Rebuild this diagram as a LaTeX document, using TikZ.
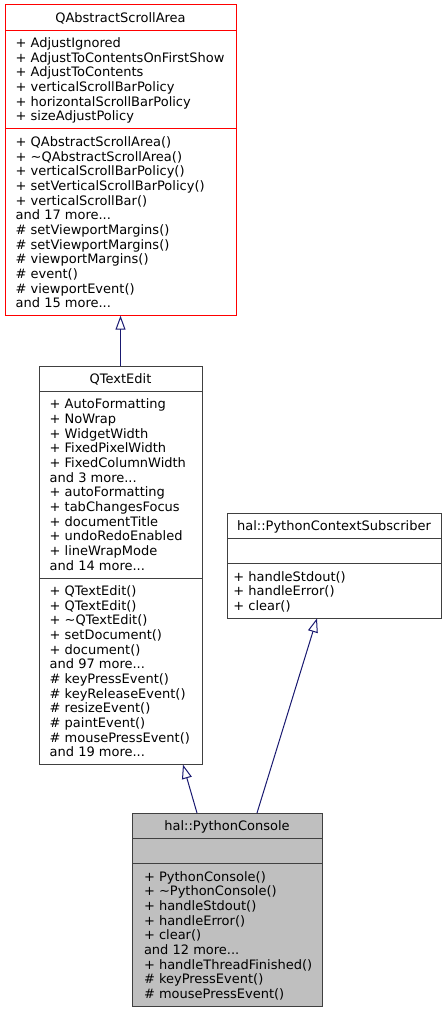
\documentclass[tikz,border=0pt]{standalone}
\usepackage{fontspec}
\setmainfont{DejaVu Sans}
\usetikzlibrary{arrows.meta,calc}
\definecolor{edgeblue}{HTML}{191970}
\definecolor{boxgray}{HTML}{404040}
\definecolor{fillgray}{HTML}{BFBFBF}
\newcommand\ls{\rule{0pt}{8pt}}
\newcommand\tl{\textasciitilde}
\tikzset{
  classbox/.style={draw=boxgray, line width=0.75pt, fill=white, inner sep=0pt, outer sep=0pt, anchor=north west, rectangle},
  divider/.style={draw=boxgray, line width=0.75pt},
  txt/.style={inner sep=0pt, outer sep=0pt, align=left, anchor=north west, font=\fontsize{9.75}{11}\selectfont},
  ttl/.style={inner sep=0pt, outer sep=0pt, anchor=base, font=\fontsize{9.75}{11}\selectfont},
  inh/.style={draw=edgeblue, line width=0.75pt, -{Triangle[open, length=10.5pt, width=7.5pt]}}
}
\begin{document}
\begin{tikzpicture}[x=1pt, y=-1pt]
\useasboundingbox (0,0) rectangle (335.25,759.75);

% QAbstractScrollArea
\node[classbox, draw=red, minimum width=173.25pt, minimum height=233pt] (A) at (3.75,3.75) {};
\draw[divider, draw=red] ($(A.north west)+(0,19)$) -- ($(A.north east)+(0,19)$);
\draw[divider, draw=red] ($(A.north west)+(0,93)$) -- ($(A.north east)+(0,93)$);
\node[ttl] (At) at ($(A.north)+(0,13)$) {QAbstractScrollArea};
\node[txt] (Aa) at ($(A.north west)+(8,24)$) {\ls+ AdjustIgnored\\+ AdjustToContentsOnFirstShow\\+ AdjustToContents\\+ verticalScrollBarPolicy\\+ horizontalScrollBarPolicy\\+ sizeAdjustPolicy};
\node[txt] (Am) at ($(A.north west)+(8,98)$) {\ls+ QAbstractScrollArea()\\+ \tl QAbstractScrollArea()\\+ verticalScrollBarPolicy()\\+ setVerticalScrollBarPolicy()\\+ verticalScrollBar()\\and 17 more...\\\# setViewportMargins()\\\# setViewportMargins()\\\# viewportMargins()\\\# event()\\\# viewportEvent()\\and 15 more...};

% QTextEdit
\node[classbox, minimum width=122.25pt, minimum height=299pt] (B) at (29.25,274.5) {};
\draw[divider] ($(B.north west)+(0,19)$) -- ($(B.north east)+(0,19)$);
\draw[divider] ($(B.north west)+(0,159)$) -- ($(B.north east)+(0,159)$);
\node[ttl] (Bt) at ($(B.north)+(0,13)$) {QTextEdit};
\node[txt] (Ba) at ($(B.north west)+(8,24)$) {\ls+ AutoFormatting\\+ NoWrap\\+ WidgetWidth\\+ FixedPixelWidth\\+ FixedColumnWidth\\and 3 more...\\+ autoFormatting\\+ tabChangesFocus\\+ documentTitle\\+ undoRedoEnabled\\+ lineWrapMode\\and 14 more...};
\node[txt] (Bm) at ($(B.north west)+(8,164)$) {\ls+ QTextEdit()\\+ QTextEdit()\\+ \tl QTextEdit()\\+ setDocument()\\+ document()\\and 97 more...\\\# keyPressEvent()\\\# keyReleaseEvent()\\\# resizeEvent()\\\# paintEvent()\\\# mousePressEvent()\\and 19 more...};

% hal::PythonContextSubscriber
\node[classbox, minimum width=160.5pt, minimum height=79pt] (C) at (170.25,384.75) {};
\draw[divider] ($(C.north west)+(0,19)$) -- ($(C.north east)+(0,19)$);
\draw[divider] ($(C.north west)+(0,38)$) -- ($(C.north east)+(0,38)$);
\node[ttl] (Ct) at ($(C.north)+(0,13)$) {hal::PythonContextSubscriber};
\node[txt] (Cm) at ($(C.north west)+(4.8,43)$) {\ls+ handleStdout()\\+ handleError()\\+ clear()};

% hal::PythonConsole
\node[classbox, fill=fillgray, minimum width=142.5pt, minimum height=145pt] (D) at (99,609.75) {};
\draw[divider] ($(D.north west)+(0,19)$) -- ($(D.north east)+(0,19)$);
\draw[divider] ($(D.north west)+(0,38)$) -- ($(D.north east)+(0,38)$);
\node[ttl] (Dt) at ($(D.north)+(0,13)$) {hal::PythonConsole};
\node[txt] (Dm) at ($(D.north west)+(9,43)$) {\ls+ PythonConsole()\\+ \tl PythonConsole()\\+ handleStdout()\\+ handleError()\\+ clear()\\and 12 more...\\+ handleThreadFinished()\\\# keyPressEvent()\\\# mousePressEvent()};

% inheritance
\draw[inh] (B.north) -- (A.south);
\draw[inh] ($(D.north)+(-22.5,0)$) -- ($(B.south)+(46.875,0)$);
\draw[inh] ($(D.north)+(22.5,0)$) -- ($(C.south)+(-12.75,0)$);
\end{tikzpicture}
\end{document}
